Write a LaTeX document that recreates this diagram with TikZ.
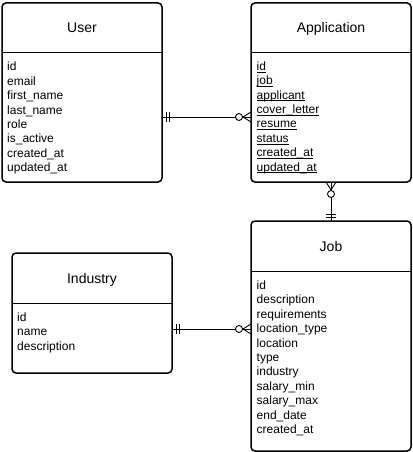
\documentclass[tikz,border=0pt]{standalone}
\usepackage{fontspec}
\setmainfont{Liberation Sans}
\usepackage{tikz}

\newcommand{\fkey}[1]{\underline{\smash{#1}}\vphantom{d}}

\tikzset{
    entity/.style={draw, line width=1.5pt, rounded corners=4pt, minimum width=160pt, inner sep=0pt, outer sep=0pt, anchor=north west},
    divider/.style={line width=1.5pt},
    enttitle/.style={font=\fontsize{14}{16}\selectfont, inner sep=0pt, anchor=base},
    attrs/.style={font=\fontsize{12}{14.4}\selectfont, align=left, inner sep=0pt, anchor=north west},
    rel/.style={line width=0.9pt},
    mandone/.pic={\draw[rel] (4,-5) -- (4,5) (7,-5) -- (7,5);},
    zeromany/.pic={\draw[rel] (0,-5) -- (8,0) -- (0,5); \draw[rel, fill=white] (12,0) circle (3.5);}
}

\begin{document}
\begin{tikzpicture}[x=1pt, y=-1pt]
        \useasboundingbox (0,0) rectangle (412,452);

        % User
        \node[entity, minimum height=179pt] (user) at (2,3) {};
        \draw[divider] ([yshift=-49.5pt]user.north west) -- ([yshift=-49.5pt]user.north east);
        \node[enttitle] (usertitle) at ([yshift=-29.5pt]user.north) {User};
        \node[attrs] (userattrs) at ([xshift=5pt, yshift=-59pt]user.north west)
            {id\\email\\first\_name\\last\_name\\role\\is\_active\\created\_at\\updated\_at};

        % Application
        \node[entity, minimum height=179pt] (app) at (251,3) {};
        \draw[divider] ([yshift=-49.5pt]app.north west) -- ([yshift=-49.5pt]app.north east);
        \node[enttitle] (apptitle) at ([yshift=-29.5pt]app.north) {Application};
        \node[attrs] (appattrs) at ([xshift=5.5pt, yshift=-58.5pt]app.north west)
            {\fkey{id}\\\fkey{job}\\\fkey{applicant}\\\fkey{cover\_letter}\\\fkey{resume}\\\fkey{status}\\\fkey{created\_at}\\\fkey{updated\_at}};

        % Job
        \node[entity, minimum height=230pt] (job) at (251,221) {};
        \draw[divider] ([yshift=-50.5pt]job.north west) -- ([yshift=-50.5pt]job.north east);
        \node[enttitle] (jobtitle) at ([yshift=-30pt]job.north) {Job};
        \node[attrs] (jobattrs) at ([xshift=5.5pt, yshift=-59.5pt]job.north west)
            {id\\description\\requirements\\location\_type\\location\\type\\industry\\salary\_min\\salary\_max\\end\_date\\created\_at};

        % Industry
        \node[entity, minimum height=120pt] (industry) at (12,253) {};
        \draw[divider] ([yshift=-50.5pt]industry.north west) -- ([yshift=-50.5pt]industry.north east);
        \node[enttitle] (industrytitle) at ([yshift=-30pt]industry.north) {Industry};
        \node[attrs] (industryattrs) at ([xshift=5pt, yshift=-59.5pt]industry.north west)
            {id\\name\\description};

        % Relations
        \draw[rel] ([yshift=-114pt]user.north east) -- ([yshift=-114pt]app.north west);
        \pic at ([yshift=-114pt]user.north east) {mandone};
        \pic[rotate=180] at ([yshift=-114pt]app.north west) {zeromany};

        \draw[rel] (app.south) -- (job.north);
        \pic[rotate=-90] at (app.south) {zeromany};
        \pic[rotate=90] at (job.north) {mandone};

        \draw[rel] ([yshift=-76pt]industry.north east) -- ([yshift=-108pt]job.north west);
        \pic at ([yshift=-76pt]industry.north east) {mandone};
        \pic[rotate=180] at ([yshift=-108pt]job.north west) {zeromany};
    \end{tikzpicture}
\end{document}
